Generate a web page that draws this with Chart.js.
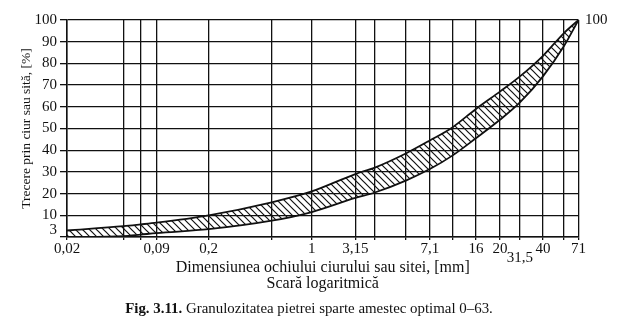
<!DOCTYPE html>
<html><head><meta charset="utf-8">
<script src="https://cdn.jsdelivr.net/npm/chart.js@4/dist/chart.umd.min.js"></script>
<style>
html,body{margin:0;padding:0;background:#fff;}
#wrap{position:relative;width:618px;height:324px;}
#caption{position:absolute;left:0;width:618px;top:300px;text-align:center;font-family:"Liberation Serif",serif;font-size:14.9px;color:#111;line-height:16px;}
</style></head><body>
<div id="wrap"><canvas id="c" width="618" height="324"></canvas>
<div id="caption"><b>Fig. 3.11.</b> Granulozitatea pietrei sparte amestec optimal 0–63.</div></div>
<script>
// ---- data ----
const sieveSizes  = [0.02, 0.05, 0.063, 0.09, 0.2, 0.5, 1, 3.15, 4, 5, 7.1, 10, 16, 20, 31.5, 40, 63, 71];
const sieveLabels = ['0,02','','','0,09','0,2','','1','3,15','','','7,1','','16','20',['','31,5'],'40','','71'];
const upperLimit  = [3, 5, 5.8, 6.6, 10, 16, 21, 29, 32, 38.5, 44.5, 50.5, 59, 67, 74, 83.5, 94, 100];
const lowerLimit  = [0, 0.4, 1.1, 1.8, 3.6, 7.5, 11.5, 18, 20.5, 26, 31.3, 37.5, 45.5, 54, 62, 74, 88, 100];
const yTickValues = [0, 3, 10, 20, 30, 40, 50, 60, 70, 80, 90, 100];

// ---- hand-drawn logarithmic sieve axis (grid spacing as printed) ----
const sieveAxisLayout = [0, 0.1106, 0.1438, 0.1751, 0.2769, 0.4002, 0.4785, 0.5636, 0.6018,
  0.6624, 0.7094, 0.7534, 0.7994, 0.8464, 0.8855, 0.9305, 0.9716, 1];

class SieveScale extends Chart.LinearScale {
  static id = 'sieve';
  static defaults = {};
  determineDataLimits() { this.min = this.options.min; this.max = this.options.max; }
  buildTicks() { return this.options.anchorValues.map(v => ({value: v})); }
  getPixelForValue(value) {
    const A = this.options.anchorValues, F = this.options.anchorFractions;
    let i = 0;
    while (i < A.length - 2 && value > A[i + 1]) i++;
    const t = (Math.log(value) - Math.log(A[i])) / (Math.log(A[i + 1]) - Math.log(A[i]));
    return this.getPixelForDecimal(F[i] + t * (F[i + 1] - F[i]));
  }
  getValueForPixel(pixel) {
    const A = this.options.anchorValues, F = this.options.anchorFractions;
    const f = this.getDecimalForPixel(pixel);
    let i = 0;
    while (i < F.length - 2 && f > F[i + 1]) i++;
    const t = (f - F[i]) / (F[i + 1] - F[i]);
    return Math.exp(Math.log(A[i]) + t * (Math.log(A[i + 1]) - Math.log(A[i])));
  }
}
Chart.register(SieveScale);

function hatchPattern() {
  const s = 7;
  const c = document.createElement('canvas'); c.width = s; c.height = s;
  const g = c.getContext('2d');
  g.strokeStyle = '#111'; g.lineWidth = 1.2;
  g.beginPath();
  g.moveTo(-1, -1); g.lineTo(s + 1, s + 1);
  g.moveTo(-1, s - 1); g.lineTo(1, s + 1);
  g.moveTo(s - 1, -1); g.lineTo(s + 1, 1);
  g.stroke();
  return g.createPattern(c, 'repeat');
}

const serif = 'Liberation Serif';
const ink = '#111';

new Chart(document.getElementById('c'), {
  type: 'line',
  data: {
    datasets: [
      { data: sieveSizes.map((s, i) => ({x: s, y: upperLimit[i]})),
        borderColor: ink, borderWidth: 1.8, pointRadius: 0,
        cubicInterpolationMode: 'monotone', fill: '+1', backgroundColor: hatchPattern() },
      { data: sieveSizes.map((s, i) => ({x: s, y: lowerLimit[i]})),
        borderColor: ink, borderWidth: 1.8, pointRadius: 0,
        cubicInterpolationMode: 'monotone', fill: false }
    ]
  },
  options: {
    responsive: false, animation: false,
    layout: { padding: { top: 20, right: 0, bottom: 0, left: 0 } },
    plugins: { legend: { display: false }, tooltip: { enabled: false } },
    scales: {
      x: {
        type: 'sieve', min: 0.02, max: 71,
        anchorValues: sieveSizes, anchorFractions: sieveAxisLayout,
        afterFit: s => { s.height = 87; },
        grid: { color: ink, lineWidth: 1.3, tickLength: 3 },
        border: { color: ink, width: 1.5 },
        ticks: { autoSkip: false, maxRotation: 0, minRotation: 0, padding: 4.5, color: ink,
          font: { family: serif, size: 15, lineHeight: 0.6 },
          callback: (v, i) => sieveLabels[i] },
        title: { display: true, color: ink,
          text: ['Dimensiunea ochiului ciurului sau sitei, [mm]', 'Scară logaritmică'],
          font: { family: serif, size: 16, lineHeight: 0.95 },
          padding: { top: 0, bottom: 33 } }
      },
      y: {
        type: 'linear', min: 0, max: 100,
        afterBuildTicks: s => { s.ticks = yTickValues.map(v => ({value: v})); },
        afterFit: s => { s.width = 67; },
        grid: { color: c => (c.tick && c.tick.value === 3) ? 'rgba(0,0,0,0)' : ink, lineWidth: 1.3, tickLength: 7 },
        border: { color: ink, width: 1.5 },
        ticks: { autoSkip: false, padding: 3, color: ink, font: { family: serif, size: 15 },
          callback: v => v === 0 ? '' : String(v) },
        title: { display: true, color: ink, text: 'Trecere prin ciur sau sită, [%]',
          font: { family: serif, size: 13.5, lineHeight: 1.2 },
          padding: { top: 18, bottom: 0 } }
      },
      y2: {
        type: 'linear', position: 'right', min: 0, max: 100,
        afterBuildTicks: s => { s.ticks = [{value: 100}]; },
        afterFit: s => { s.width = 39.5; },
        grid: { display: false, drawTicks: false },
        border: { display: false },
        ticks: { autoSkip: false, padding: 6.5, color: ink, font: { family: serif, size: 15 } }
      }
    }
  }
});
</script>
</body></html>
